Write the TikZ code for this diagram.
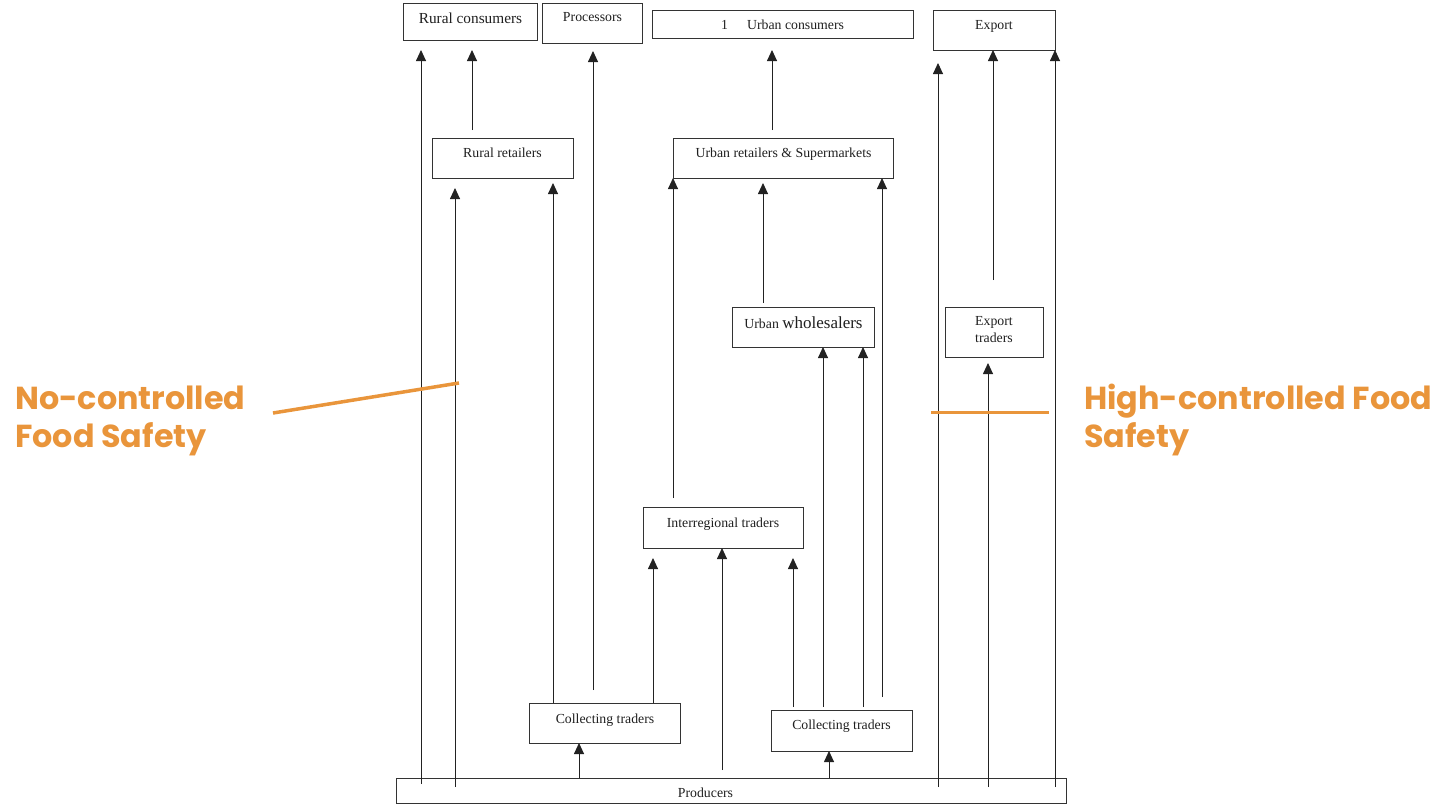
\documentclass[tikz,border=0pt]{standalone}
\usepackage{fontspec}
\setmainfont{Liberation Serif}
\newfontfamily\tagfont{Poppins}
\usetikzlibrary{arrows.meta,fit}
\definecolor{boxline}{HTML}{333333}
\definecolor{arrline}{HTML}{222222}
\definecolor{tagorange}{HTML}{E9953B}
\begin{document}
\begin{tikzpicture}[x=1pt,y=-1pt,
  box/.style={draw=boxline,line width=1pt,inner sep=0pt,outer sep=0pt},
  lbl/.style={font=\fontsize{13.8}{16}\selectfont,text=black!88,inner sep=0pt,anchor=base},
  arr/.style={draw=arrline,line width=0.9pt,-{Triangle[width=10pt,length=11pt]}},
  tag/.style={font=\tagfont\bfseries\fontsize{31.8}{38}\selectfont,text=tagorange,inner sep=0pt,anchor=base west},
  tagline/.style={draw=tagorange,line width=3.5pt}]
\useasboundingbox (0,0) rectangle (1447,804);

% boxes
\node[box,fit={(403,3) (537,40)}]    (rc)   {};
\node[box,fit={(542,3) (642,43)}]    (proc) {};
\node[box,fit={(652,10) (913,38)}]   (uc)   {};
\node[box,fit={(933,10) (1055,50)}]  (exp)  {};
\node[box,fit={(432,138) (573,178)}] (rr)   {};
\node[box,fit={(673,138) (893,178)}] (ur)   {};
\node[box,fit={(732,307) (874,347)}] (uw)   {};
\node[box,fit={(945,307) (1043,357)}] (et)  {};
\node[box,fit={(643,507) (803,548)}] (ir)   {};
\node[box,fit={(529,703) (680,743)}] (ct1)  {};
\node[box,fit={(771,710) (912,751)}] (ct2)  {};
\node[box,fit={(396,778) (1066,803)}] (prod) {};

% box texts
\node[lbl,font=\fontsize{15.3}{17}\selectfont] (trc) at (470.5,23) {Rural consumers};
\node[lbl] (tproc) at (592.5,21) {Processors};
\node[lbl,anchor=base west] (tuc) at (721,29) {1\hspace{19pt}Urban consumers};
\node[lbl] (texp) at (994,29) {Export};
\node[lbl] (trr) at (502.5,157) {Rural retailers};
\node[lbl] (tur) at (783.5,157) {Urban retailers \& Supermarkets};
\node[lbl] (tuw) at (803.5,328) {Urban {\fontsize{17}{19}\selectfont wholesalers}};
\node[lbl] (tet1) at (994,325) {Export};
\node[lbl] (tet2) at (994,342) {traders};
\node[lbl] (tir) at (723,527) {Interregional traders};
\node[lbl] (tct1) at (605,723) {Collecting traders};
\node[lbl] (tct2) at (841.5,729) {Collecting traders};
\node[lbl] (tprod) at (705.5,797) {Producers};

% flows
\draw[arr,shorten <=-6pt,shorten >=10pt] (prod.north -| 421,0) -- (rc.south -| 421,0);
\draw[arr,shorten <=8pt,shorten >=10pt]  (rr.north -| 472,0) -- (rc.south -| 472,0);
\draw[arr,shorten <=-9pt,shorten >=10pt] (prod.north -| 455,0) -- (rr.south -| 455,0);
\draw[arr,shorten >=5pt]                 (ct1.north -| 553,0) -- (rr.south -| 553,0);
\draw[arr,shorten <=13pt,shorten >=8pt]  (ct1.north -| 593,0) -- (proc.south -| 593,0);
\draw[arr,shorten >=10pt]                (ct1.north -| 653,0) -- (ir.south -| 653,0);
\draw[arr,shorten <=9pt]                 (ir.north -| 673,0) -- (ur.south -| 673,0);
\draw[arr,shorten <=8pt]                 (prod.north -| 722,0) -- (ir.south -| 722,0);
\draw[arr,shorten <=3pt,shorten >=10pt]  (ct2.north -| 793,0) -- (ir.south -| 793,0);
\draw[arr,shorten <=4pt,shorten >=5pt]   (uw.north -| 763,0) -- (ur.south -| 763,0);
\draw[arr,shorten <=8pt,shorten >=12pt]  (ur.north -| 772,0) -- (uc.south -| 772,0);
\draw[arr,shorten <=3pt]                 (ct2.north -| 823,0) -- (uw.south -| 823,0);
\draw[arr,shorten <=3pt]                 (ct2.north -| 863,0) -- (uw.south -| 863,0);
\draw[arr,shorten <=13pt]                (ct2.north -| 882,0) -- (ur.south -| 882,0);
\draw[arr,shorten <=-9pt,shorten >=13pt] (prod.north -| 938,0) -- (exp.south -| 938,0);
\draw[arr,shorten <=27pt]                (et.north -| 993,0) -- (exp.south -| 993,0);
\draw[arr,shorten <=-9pt]                (prod.north -| 1055,0) -- (exp.south -| 1055,0);
\draw[arr,shorten <=-9pt,shorten >=6pt]  (prod.north -| 988,0) -- (et.south -| 988,0);
\draw[arr]                               (prod.north -| 579,0) -- (ct1.south -| 579,0);
\draw[arr]                               (prod.north -| 829,0) -- (ct2.south -| 829,0);

% food safety tags
\node[tag] (nc1) at (15,409) {No-controlled};
\node[tag] (nc2) at (15,447) {Food Safety};
\node[tag] (hc1) at (1084,409) {High-controlled Food};
\node[tag] (hc2) at (1084,447) {Safety};
\coordinate (ncA) at (273,413);
\coordinate (ncB) at (459,383);
\coordinate (hcA) at (931,412.5);
\coordinate (hcB) at (1049,412.5);
\draw[tagline] (ncA) -- (ncB);
\draw[tagline] (hcA) -- (hcB);
\end{tikzpicture}
\end{document}
